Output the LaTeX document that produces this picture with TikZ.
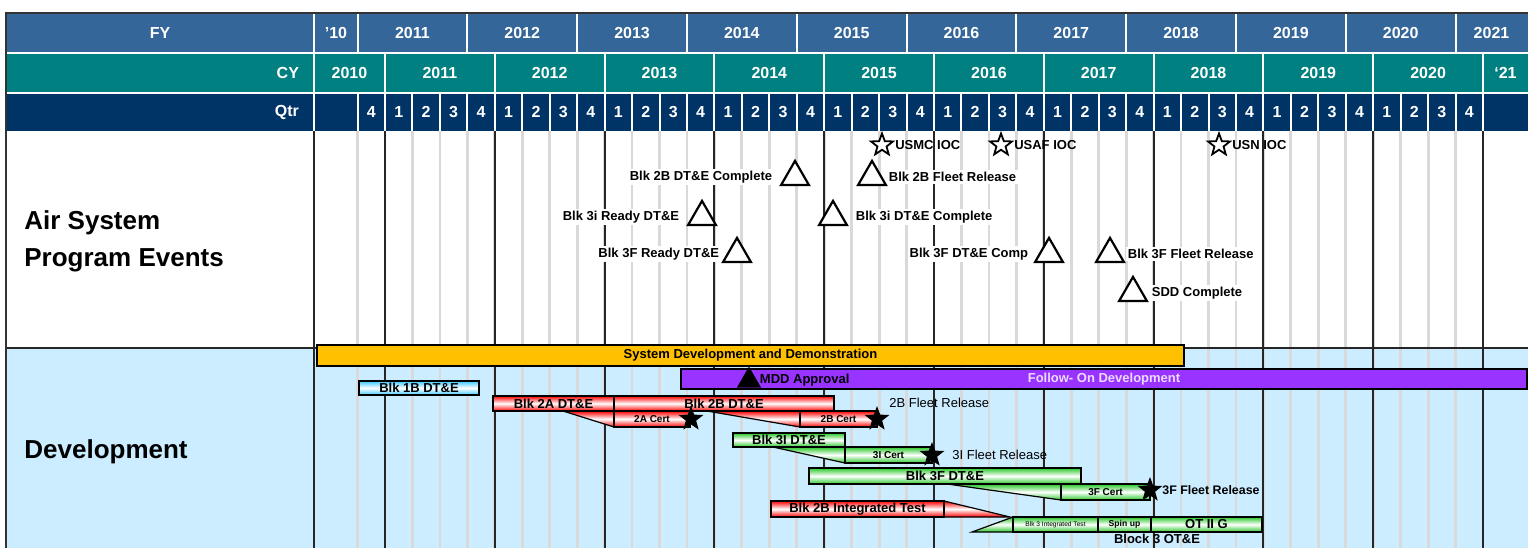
\documentclass[tikz,border=0pt]{standalone}
\usepackage{fontspec}
\setmainfont{Liberation Sans}
\usetikzlibrary{shapes.geometric,positioning}
\definecolor{fyblue}{RGB}{52,102,153}
\definecolor{cyteal}{RGB}{0,128,128}
\definecolor{qtrnavy}{RGB}{0,51,102}
\definecolor{devbg}{RGB}{204,236,255}
\definecolor{gridgray}{RGB}{217,217,217}
\definecolor{sddgold}{RGB}{255,192,0}
\definecolor{fodpurple}{RGB}{153,51,255}
\definecolor{fodtext}{RGB}{235,220,255}
\definecolor{barred}{RGB}{255,0,0}
\definecolor{bargreen}{RGB}{40,200,40}
\definecolor{barcyan}{RGB}{60,200,255}

\begin{document}
\begin{tikzpicture}
  [x=0.5pt,y=-0.5pt,
   node distance=3pt,
   hdr/.style={text=white,font=\bfseries\fontsize{8}{9}\selectfont},
   cellsep/.style={white,line width=1pt},
   qline/.style={gridgray,line width=1.4pt},
   yline/.style={black!85,line width=1pt},
   evtri/.style={regular polygon,regular polygon sides=3,draw,line width=1.1pt,fill=white,
                 minimum size=16pt,inner sep=0pt,anchor=south},
   ioc/.style={star,star points=5,star point ratio=2.4,draw,line width=0.9pt,fill=white,
               minimum size=11.5pt,inner sep=0pt},
   certstar/.style={star,star points=5,star point ratio=2.4,fill=black,minimum size=13pt,inner sep=0pt},
   evlbl/.style={fill=white,inner sep=1pt,font=\bfseries\fontsize{6.5}{7}\selectfont},
   ioclbl/.style={inner sep=1pt,font=\bfseries\fontsize{6.5}{7}\selectfont},
   gbar/.style={draw,line width=0.6pt,inner sep=0pt,font=\bfseries\fontsize{6.5}{7}\selectfont},
   redbar/.style={gbar,top color=barred,bottom color=barred,middle color=white},
   greenbar/.style={gbar,top color=bargreen,bottom color=bargreen,middle color=white},
   redwedge/.style={draw,line width=0.6pt,top color=barred,bottom color=barred,middle color=white},
   greenwedge/.style={draw,line width=0.6pt,top color=bargreen,bottom color=bargreen,middle color=white},
   certlbl/.style={font=\bfseries\fontsize{5}{6}\selectfont},
   fleetlbl/.style={anchor=west,inner sep=0pt,font=\fontsize{6.5}{7}\selectfont}]

  \useasboundingbox (0,0) rectangle (1528,548);

  % section backgrounds
  \fill[white] (6,131) rectangle (1528,348);
  \fill[devbg] (6,348) rectangle (1528,548);

  % grid lines
  \foreach \k in {0,...,41}
    \draw[qline] ({357.55+27.45*\k},131) -- ({357.55+27.45*\k},548);
  \foreach \i in {0,...,10}
    \draw[yline] ({385+109.8*\i},131) -- ({385+109.8*\i},548);
  \draw[yline] (314,131) -- (314,548);
  \draw[yline] (6,348) -- (1528,348);

  % header rows
  \fill[fyblue] (6,13) rectangle (1528,52.5);
  \fill[cyteal] (6,52.5) rectangle (1528,92.5);
  \fill[qtrnavy] (6,92.5) rectangle (1528,131);
  \draw[cellsep] (6,52.5) -- (1528,52.5);
  \draw[cellsep] (6,92.5) -- (1528,92.5);
  \draw[cellsep] (314,13) -- (314,131);
  \foreach \i in {0,...,10} {
    \draw[cellsep] ({357.55+109.8*\i},13) -- ({357.55+109.8*\i},52.5);
    \draw[cellsep] ({385+109.8*\i},52.5) -- ({385+109.8*\i},92.5);
  }
  \foreach \k in {0,...,41}
    \draw[cellsep] ({357.55+27.45*\k},92.5) -- ({357.55+27.45*\k},131);
  \draw[black!80,line width=0.8pt] (6,548) -- (6,13) -- (1528,13);

  \node[hdr] (fy) at (160,32.5) {FY};
  \node[hdr,anchor=east] (cy) at (306,72.5) {CY};
  \node[hdr,anchor=east] (qtr) at (306,112) {Qtr};
  \node[hdr] (fy2010) at (336,32.5) {’10};
  \foreach \yr in {2011,...,2020}
    \node[hdr] (fy\yr) at ({412.45+109.8*(\yr-2011)},32.5) {\yr};
  \node[hdr] (fy2021) at (1491.5,32.5) {2021};
  \node[hdr] (cy2010) at (349.5,72.5) {2010};
  \foreach \yr in {2011,...,2020}
    \node[hdr] (cy\yr) at ({439.9+109.8*(\yr-2011)},72.5) {\yr};
  \node[hdr] (cy2021) at (1505.5,72.5) {‘21};
  \node[hdr] (qstart) at (371.3,112) {4};
  \foreach \k in {0,...,39} {
    \pgfmathtruncatemacro{\qn}{mod(\k,4)+1}
    \node[hdr] (q\k) at ({398.7+27.45*\k},112) {\qn};
  }

  % row titles
  \node[anchor=west,align=left,inner sep=0pt,font=\bfseries\fontsize{13}{18.5}\selectfont]
    (evttitle) at (24,241.5) {Air System\\Program Events};
  \node[anchor=west,inner sep=0pt,font=\bfseries\fontsize{13}{15}\selectfont]
    (devtitle) at (24,452) {Development};

  % program events
  \node[ioc] (iocusmc) at (882,145) {};
  \node[ioclbl,right=1.5pt of iocusmc] (lusmc) {USMC IOC};
  \node[ioc] (iocusaf) at (1001,145) {};
  \node[ioclbl,right=1.5pt of iocusaf] (lusaf) {USAF IOC};
  \node[ioc] (iocusn) at (1219,145) {};
  \node[ioclbl,right=1.5pt of iocusn] (lusn) {USN IOC};

  \node[evtri] (t2bc) at (795,186) {};
  \node[evlbl,left=5pt of t2bc] (l2bc) {Blk 2B DT\&E Complete};
  \node[evtri] (t2bf) at (872,186) {};
  \node[evlbl,right=2pt of t2bf] (l2bf) {Blk 2B Fleet Release};

  \node[evtri] (t3ir) at (702,226) {};
  \node[evlbl,left=5pt of t3ir] (l3ir) {Blk 3i Ready DT\&E};
  \node[evtri] (t3ic) at (833,226) {};
  \node[evlbl,right=5pt of t3ic] (l3ic) {Blk 3i DT\&E Complete};

  \node[evtri] (t3fr) at (737,263) {};
  \node[evlbl,left=2.5pt of t3fr] (l3fr) {Blk 3F Ready DT\&E};
  \node[evtri] (t3fc) at (1049,263) {};
  \node[evlbl,left=4pt of t3fc] (l3fc) {Blk 3F DT\&E Comp};
  \node[evtri] (t3ff) at (1110,263) {};
  \node[evlbl,right=2.5pt of t3ff] (l3ff) {Blk 3F Fleet Release};

  \node[evtri] (tsdd) at (1133,302) {};
  \node[evlbl,right=3pt of tsdd] (lsdd) {SDD Complete};

  % development bars
  \node[gbar,fill=sddgold,minimum width=433.5pt,minimum height=10.5pt] (sdd) at (750.5,355.5)
    {System Development and Demonstration};
  \node[gbar,fill=fodpurple,text=fodtext,minimum width=423pt,minimum height=10pt] (fod) at (1104,379)
    {Follow- On Development};
  \node[regular polygon,regular polygon sides=3,fill=black,minimum size=14pt,inner sep=0pt,anchor=south]
    (mdd) at (749,388) {};
  \node[right=1pt of mdd,inner sep=0pt,font=\bfseries\fontsize{6.5}{7}\selectfont] (lmdd) {MDD Approval};

  \node[gbar,top color=barcyan,bottom color=barcyan,middle color=white,minimum width=60pt,minimum height=7pt]
    (b1b) at (419,388) {Blk 1B DT\&E};

  \path[redwedge] (563,411) -- (614,411) -- (614,427) -- cycle;
  \path[redwedge] (707,411) -- (800,411) -- (800,427) -- cycle;
  \node[redbar,minimum width=60.5pt,minimum height=7.5pt] (b2a) at (553.5,403.5) {Blk 2A DT\&E};
  \node[redbar,minimum width=110pt,minimum height=7.5pt] (b2b) at (724,403.5) {Blk 2B DT\&E};
  \node[redbar,certlbl,minimum width=38pt,minimum height=8pt] (c2a) at (652,419) {2A Cert};
  \node[redbar,certlbl,minimum width=38.5pt,minimum height=8pt] (c2b) at (838.5,419) {2B Cert};
  \node[certstar] (s2a) at (691,419) {};
  \node[certstar] (s2b) at (877,419) {};
  \node[fleetlbl] (f2b) at (889,403) {2B Fleet Release};

  \path[greenwedge] (773,447) -- (845,447) -- (845,463) -- cycle;
  \node[greenbar,minimum width=56pt,minimum height=7pt] (b3i) at (789,440) {Blk 3I DT\&E};
  \node[greenbar,certlbl,minimum width=43.5pt,minimum height=8pt] (c3i) at (888.5,455) {3I Cert};
  \node[certstar] (s3i) at (932,455) {};
  \node[fleetlbl] (f3i) at (952,455) {3I Fleet Release};

  \path[greenwedge] (947,484) -- (1061,484) -- (1061,500) -- cycle;
  \node[greenbar,minimum width=136pt,minimum height=8pt] (b3f) at (945,476) {Blk 3F DT\&E};
  \node[greenbar,certlbl,minimum width=44.5pt,minimum height=8pt] (c3f) at (1105.5,492) {3F Cert};
  \node[certstar] (s3f) at (1150,490) {};
  \node[fleetlbl,font=\bfseries\fontsize{6.2}{7}\selectfont] (f3f) at (1162,490) {3F Fleet Release};

  \path[redwedge] (944,501) -- (1010,517) -- (944,517) -- cycle;
  \node[redbar,minimum width=86.5pt,minimum height=8pt] (b2bit) at (857.5,509) {Blk 2B Integrated Test};
  \path[greenwedge] (972,532) -- (1013,517) -- (1013,532) -- cycle;
  \node[greenbar,minimum width=42.5pt,minimum height=7.5pt,font=\fontsize{3.3}{4}\selectfont]
    (b3it) at (1055.5,524.5) {Blk 3 Integrated Test};
  \node[greenbar,minimum width=26.5pt,minimum height=7.5pt,font=\bfseries\fontsize{4.3}{5}\selectfont]
    (spin) at (1124.5,524.5) {Spin up};
  \node[greenbar,minimum width=55.5pt,minimum height=7.5pt] (ot2g) at (1206.5,524.5) {OT II G};
  \node[inner sep=0pt,font=\bfseries\fontsize{6.5}{7}\selectfont] (b3ote) at (1157,539) {Block 3 OT\&E};

\end{tikzpicture}
\end{document}
